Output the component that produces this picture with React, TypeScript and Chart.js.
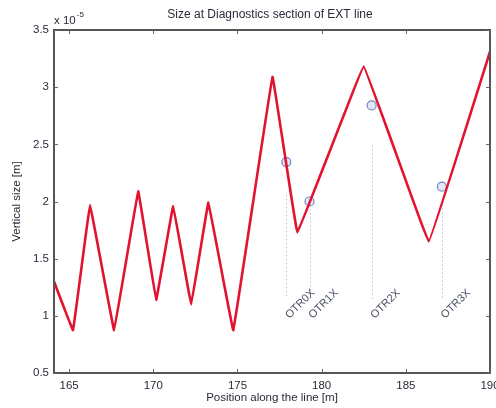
import React, { useEffect, useRef } from "react";
import { Chart, registerables } from "chart.js";
Chart.register(...registerables);

// Beam size curve (position [m], vertical size [x1e-5 m])
const positions = [164.1, 165.23, 166.24, 167.67, 169.1, 170.17, 171.18, 172.25, 173.27, 174.75, 177.08, 178.56, 182.5, 186.36, 190.0];
const sizes = [1.30, 0.875, 1.97, 0.875, 2.09, 1.14, 1.96, 1.10, 1.99, 0.875, 3.09, 1.73, 3.18, 1.65, 3.31];

// Measured points at OTR screens
const otrPositions = [177.9, 179.28, 182.97, 187.14];
const otrSizes = [2.345, 2.0, 2.84, 2.13];
const otrNames = ["OTR0X", "OTR1X", "OTR2X", "OTR3X"];
const otrLineTop = [2.06, 1.97, 2.49, 2.01];
const otrLineBottom = 1.15;
const otrLabelY = 0.99;

const xTicks = [165, 170, 175, 180, 185, 190];
const xMin = 164.1;
const xMax = 190;
const yMin = 0.5;
const yMax = 3.5;

const titleText = "Size at Diagnostics section of EXT line";
const xTitle = "Position along the line [m]";
const yTitle = "Vertical size [m]";
const exponentBase = "x 10";
const exponentPow = "-5";

const FONT = "'Liberation Sans', Arial, sans-serif";

const decorPlugin = {
  id: "decor",
  beforeDatasetsDraw(chart: any) {
    const { ctx, scales } = chart;
    const xs = scales.x, ys = scales.y;
    ctx.save();
    ctx.strokeStyle = "#b8bfd0";
    ctx.lineWidth = 1;
    ctx.setLineDash([1.5, 2.5]);
    otrPositions.forEach((p, i) => {
      const x = Math.round(xs.getPixelForValue(p)) + 0.5;
      ctx.beginPath();
      ctx.moveTo(x, ys.getPixelForValue(otrLineTop[i]));
      ctx.lineTo(x, ys.getPixelForValue(otrLineBottom));
      ctx.stroke();
    });
    ctx.setLineDash([]);
    ctx.fillStyle = "#4a4f66";
    ctx.font = `11px ${FONT}`;
    ctx.textAlign = "left";
    ctx.textBaseline = "middle";
    otrPositions.forEach((p, i) => {
      ctx.save();
      ctx.translate(xs.getPixelForValue(p) + 1, ys.getPixelForValue(otrLabelY));
      ctx.rotate(-Math.PI / 4);
      ctx.fillText(otrNames[i], 0, 0);
      ctx.restore();
    });
    ctx.restore();
  },
  afterDraw(chart: any) {
    const { ctx, chartArea: a, scales } = chart;
    const xs = scales.x, ys = scales.y;
    ctx.save();
    ctx.strokeStyle = "#555";
    ctx.lineWidth = 2;
    ctx.strokeRect(a.left, a.top, a.right - a.left, a.bottom - a.top);
    ctx.lineWidth = 1;
    ctx.strokeStyle = "#666";
    ctx.beginPath();
    xTicks.forEach((t) => {
      const x = Math.round(xs.getPixelForValue(t)) + 0.5;
      ctx.moveTo(x, a.bottom); ctx.lineTo(x, a.bottom - 4);
      ctx.moveTo(x, a.top); ctx.lineTo(x, a.top + 4);
    });
    for (let v = yMin; v <= yMax + 1e-9; v += 0.5) {
      const y = Math.round(ys.getPixelForValue(v)) + 0.5;
      ctx.moveTo(a.left, y); ctx.lineTo(a.left + 4, y);
      ctx.moveTo(a.right, y); ctx.lineTo(a.right - 4, y);
    }
    ctx.stroke();
    ctx.fillStyle = "#2a2a3a";
    ctx.font = `12px ${FONT}`;
    ctx.textAlign = "center";
    ctx.textBaseline = "middle";
    ctx.fillText(titleText, 270, 15);
    ctx.font = `11.5px ${FONT}`;
    ctx.fillText(xTitle, (a.left + a.right) / 2, 398);
    ctx.save();
    ctx.translate(17, (a.top + a.bottom) / 2);
    ctx.rotate(-Math.PI / 2);
    ctx.fillText(yTitle, 0, 0);
    ctx.restore();
    ctx.textAlign = "left";
    ctx.font = `11.5px ${FONT}`;
    ctx.fillText(exponentBase, a.left, 21);
    const w = ctx.measureText(exponentBase).width;
    ctx.font = `8px ${FONT}`;
    ctx.fillText(exponentPow, a.left + 1 + w, 15);
    ctx.restore();
  },
};

export default function App() {
  const ref = useRef<HTMLCanvasElement | null>(null);
  useEffect(() => {
    document.body.style.margin = "0";
    const chart = new Chart(ref.current as HTMLCanvasElement, {
      type: "line",
      data: {
        datasets: [
          {
            data: positions.map((p, i) => ({ x: p, y: sizes[i] })),
            borderColor: "#e3122e",
            borderWidth: 2.6,
            pointRadius: 0,
            tension: 0.03,
            borderJoinStyle: "round",
            fill: false,
          },
          {
            data: otrPositions.map((p, i) => ({ x: p, y: otrSizes[i] })),
            showLine: false,
            pointRadius: 4.5,
            pointBorderWidth: 1.2,
            pointBorderColor: "#6f86c9",
            pointBackgroundColor: "rgba(140,160,220,0.25)",
          },
        ],
      },
      options: {
        animation: false,
        responsive: false,
        maintainAspectRatio: false,
        layout: { padding: { top: 30, right: 6, left: 0, bottom: 0 } },
        plugins: { legend: { display: false }, tooltip: { enabled: false }, title: { display: false } },
        scales: {
          x: {
            type: "linear",
            min: xMin,
            max: xMax,
            afterBuildTicks: (s: any) => { s.ticks = xTicks.map((v) => ({ value: v })); },
            afterFit: (s: any) => { s.height = 35; s.paddingLeft = 0; s.paddingRight = 0; },
            grid: { display: false, drawTicks: false },
            border: { display: false },
            ticks: { color: "#2a2a3a", padding: 6, font: { family: FONT, size: 11.5 }, maxRotation: 0 },
          },
          y: {
            type: "linear",
            min: yMin,
            max: yMax,
            afterFit: (s: any) => { s.width = 54; s.paddingTop = 0; s.paddingBottom = 0; },
            grid: { display: false, drawTicks: false },
            border: { display: false },
            ticks: {
              color: "#2a2a3a",
              padding: 5,
              stepSize: 0.5,
              font: { family: FONT, size: 11.5 },
              callback: (v: any) => String(Number(v)),
            },
          },
        },
      },
      plugins: [decorPlugin],
    });
    return () => chart.destroy();
  }, []);
  return (
    <div style={{ position: "fixed", left: 0, top: 0, width: 496, height: 408, background: "#fff" }}>
      <canvas ref={ref} width={496} height={408} style={{ width: 496, height: 408 }} />
    </div>
  );
}
